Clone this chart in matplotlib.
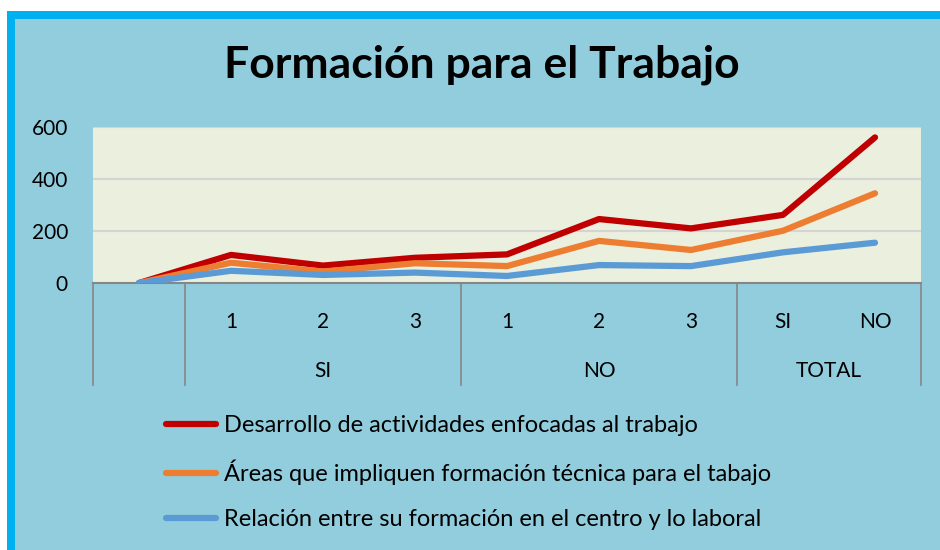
import matplotlib.pyplot as plt
from matplotlib.patches import Rectangle
from matplotlib.transforms import blended_transform_factory

plt.rcParams['font.family'] = ['Lato', 'DejaVu Sans']

# Datos
categorias = ['', '1', '2', '3', '1', '2', '3', 'SI', 'NO']
grupos = ['SI', 'NO', 'TOTAL']
grupo_centros = [2, 5, 7.5]
separadores = [-0.5, 0.5, 3.5, 6.5, 8.5]

desarrollo = [0, 108, 67, 97, 110, 246, 210, 262, 560]
areas = [0, 78, 44, 76, 65, 162, 127, 201, 345]
relacion = [0, 47, 31, 40, 27, 69, 65, 118, 155]

series = [
    (desarrollo, "Desarrollo de actividades enfocadas al trabajo", "#C00000"),
    (areas, "Áreas que impliquen formación técnica para el tabajo", "#ED7D31"),
    (relacion, "Relación entre su formación en el centro y lo laboral", "#5B9BD5"),
]

fig = plt.figure(figsize=(9.4, 5.5), dpi=100)
fig.patch.set_facecolor('white')
fig.patches.append(Rectangle((7/940, 0), 1, 1 - 11/550, transform=fig.transFigure,
                             facecolor='#00B0F0', edgecolor='none', zorder=-2))
fig.patches.append(Rectangle((15/940, 0), 1, 1 - 19/550, transform=fig.transFigure,
                             facecolor='#92CDDD', edgecolor='none', zorder=-1))

ax = fig.add_axes([93/940, 1 - 283/550, (921 - 93)/940, 156/550])
ax.set_facecolor('#EBEFDE')

x = list(range(len(categorias)))
for vals, nombre, color in series:
    ax.plot(x, vals, color=color, lw=4.5, label=nombre, solid_capstyle='round', zorder=3)

ax.set_xlim(-0.5, 8.5)
ax.set_ylim(0, 600)
ax.set_yticks([0, 200, 400, 600])
ax.grid(axis='y', color='#D4D4D4', lw=1.5)
ax.set_axisbelow(True)
for s in ['top', 'right', 'left']:
    ax.spines[s].set_visible(False)
ax.spines['bottom'].set_color('#868686')
ax.spines['bottom'].set_linewidth(1.5)
ax.tick_params(axis='y', length=0, pad=18, labelsize=15)
ax.set_xticks(x)
ax.set_xticklabels(categorias)
ax.tick_params(axis='x', length=0, pad=21, labelsize=15)

trans = blended_transform_factory(ax.transData, ax.transAxes)
for sx in separadores:
    ax.plot([sx, sx], [0, -102/156], color='#868686', lw=1.2, transform=trans, clip_on=False)
for cx, g in zip(grupo_centros, grupos):
    ax.text(cx, -88/156, g, transform=trans, ha='center', va='center', fontsize=15)

fig.text(482/940, 1 - 65/550, "Formación para el Trabajo", ha='center', va='center',
         fontsize=32, fontweight='bold')

leg = fig.legend(loc='upper left', bbox_to_anchor=(145/940, 1 - 394/550), frameon=False,
                 fontsize=17, handlelength=2.1, handletextpad=0.34, labelspacing=1.0)

fig.savefig('out.png', dpi=100)
